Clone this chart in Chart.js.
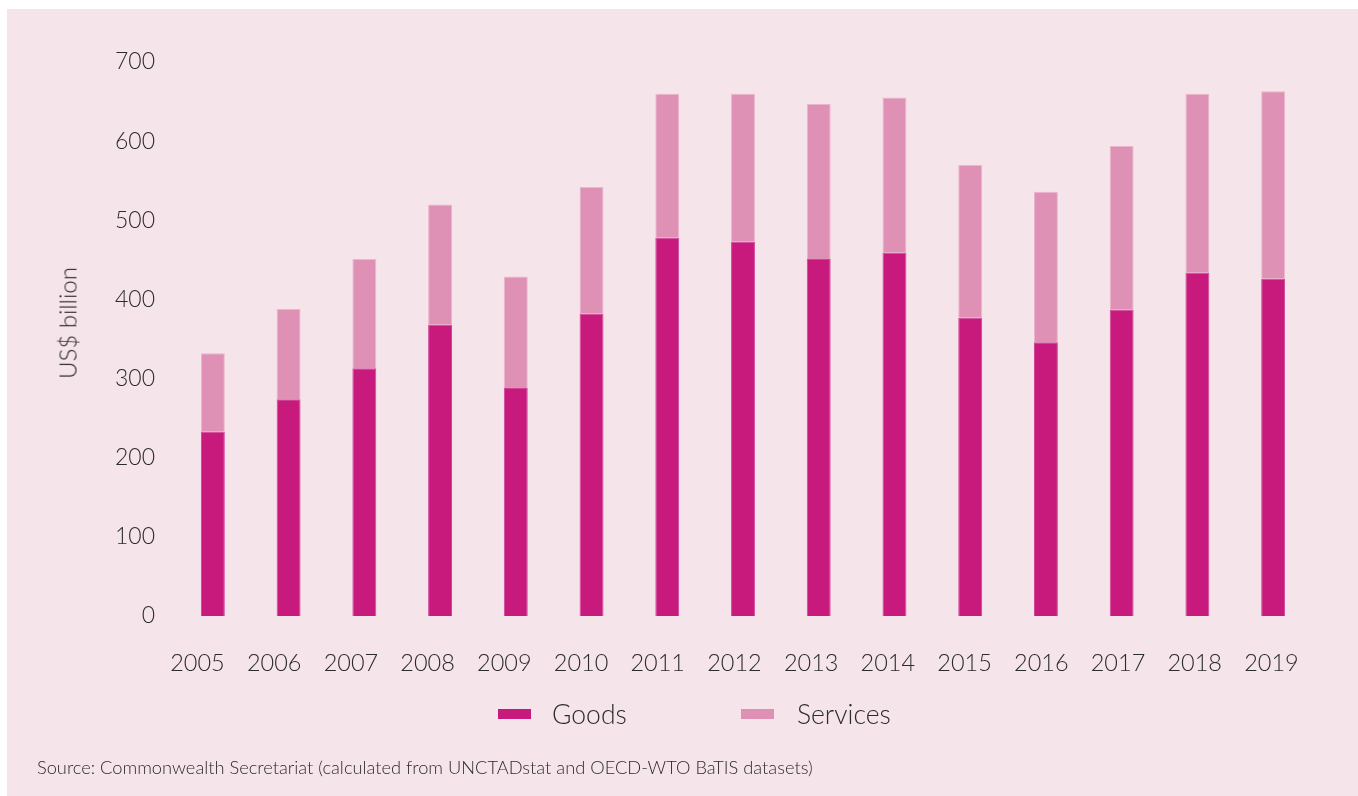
<!DOCTYPE html>
<html>
<head>
<meta charset="utf-8">
<script src="https://cdn.jsdelivr.net/npm/chart.js@4"></script>
<style>
  html, body { margin: 0; padding: 0; background: #fff; }
  body { width: 1358px; height: 796px; position: relative; overflow: hidden; font-family: Lato, sans-serif; color: #2b2b2b; }
  #panel { position: absolute; left: 7px; top: 9px; right: 0; bottom: 0; background: #f5e4ea; }
  #wrap { position: absolute; left: 0; top: 0; width: 1358px; height: 796px; }
  #ytitle { position: absolute; left: 67px; top: 323px; font-size: 24px; font-weight: 300; white-space: nowrap;
            transform: translate(-50%, -50%) rotate(-90deg); }
  #legend { position: absolute; top: 699px; left: 0; width: 1358px; height: 30px; font-size: 26.5px; font-weight: 300; }
  .item { position: absolute; top: 0; line-height: 30px; white-space: nowrap; }
  .swatch { position: absolute; top: 10px; width: 33px; height: 10px; }
  #source { position: absolute; left: 37px; top: 756px; font-size: 18.25px; font-weight: 300; white-space: nowrap; }
</style>
</head>
<body>
<div id="panel"></div>
<div id="wrap"><canvas id="myChart" width="1358" height="796"></canvas></div>
<div id="ytitle">US$ billion</div>
<div id="legend"></div>
<div id="source">Source: Commonwealth Secretariat (calculated from UNCTADstat and OECD-WTO BaTIS datasets)</div>
<script>
// data (US$ billion)
const years = ['2005', '2006', '2007', '2008', '2009', '2010', '2011', '2012', '2013', '2014', '2015', '2016', '2017', '2018', '2019'];
const goods = [233, 274, 313, 368, 288, 382, 478, 473, 451, 459, 377, 346, 387, 434, 426];
const services = [99, 114, 138, 152, 141, 160, 182, 187, 196, 196, 193, 190, 207, 226, 237];
const yTicks = [0, 100, 200, 300, 400, 500, 600, 700];

const goodsColor = '#c8197d';
const servicesColor = '#de91b5';
const textColor = '#2b2b2b';
const fontFamily = 'Lato, sans-serif';

// html legend
const legend = document.getElementById('legend');
[
  { label: 'Goods', color: goodsColor, box: 498, text: 552 },
  { label: 'Services', color: servicesColor, box: 741, text: 797 }
].forEach(d => {
  const sw = document.createElement('div');
  sw.className = 'swatch';
  sw.style.left = d.box + 'px';
  sw.style.background = d.color;
  legend.appendChild(sw);
  const t = document.createElement('div');
  t.className = 'item';
  t.style.left = d.text + 'px';
  t.textContent = d.label;
  legend.appendChild(t);
});

const ctx = document.getElementById('myChart');

const myChart = new Chart(ctx, {
  type: 'bar',
  data: {
    labels: years,
    datasets: [
      {
        label: 'Goods',
        data: goods,
        backgroundColor: goodsColor,
        borderColor: '#d0449a',
        borderWidth: 1,
        categoryPercentage: 1,
        barPercentage: 24 / 76
      },
      {
        label: 'Services',
        data: services,
        backgroundColor: servicesColor,
        borderColor: '#eab5cd',
        borderWidth: 1,
        categoryPercentage: 1,
        barPercentage: 24 / 76
      }
    ]
  },
  options: {
    responsive: false,
    animation: false,
    events: [],
    layout: {
      padding: { left: 52, right: 47, top: 62, bottom: 120 }
    },
    plugins: {
      legend: { display: false },
      tooltip: { enabled: false }
    },
    scales: {
      x: {
        stacked: true,
        display: false
      },
      // year labels sit on a slightly tighter spacing than the bars in the original
      xl: {
        type: 'linear',
        position: 'bottom',
        offset: false,
        min: -0.293,
        max: 14.516,
        grid: { display: false, drawTicks: false, offset: false },
        border: { display: false },
        afterBuildTicks: scale => { scale.ticks = years.map((y, i) => ({ value: i })); },
        ticks: {
          color: textColor,
          font: { family: fontFamily, size: 23.5, weight: '300' },
          padding: 33,
          maxRotation: 0,
          autoSkip: false,
          callback: v => years[v]
        },
        afterFit: scale => { scale.height = 60; }
      },
      y: {
        stacked: true,
        min: 0,
        max: 700,
        grid: { display: false, drawTicks: false },
        border: { display: false },
        afterBuildTicks: scale => { scale.ticks = yTicks.map(v => ({ value: v })); },
        ticks: {
          color: textColor,
          font: { family: fontFamily, size: 23, weight: '300' },
          padding: 20
        },
        afterFit: scale => { scale.width = 175 - 52; }
      }
    }
  }
});
</script>
</body>
</html>
